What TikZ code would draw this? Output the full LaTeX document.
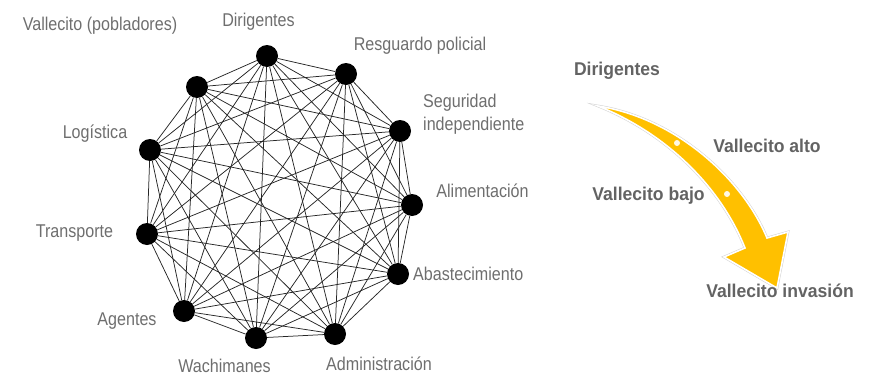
\documentclass[tikz,border=0pt]{standalone}
\usepackage{fontspec}
\setmainfont{Liberation Sans}[FakeStretch=0.87]
\newfontfamily\boldlab{Liberation Sans}[FakeStretch=0.95]
\definecolor{labgray}{HTML}{6E6E6E}
\definecolor{boldgray}{HTML}{636363}
\definecolor{arrowyellow}{HTML}{FFC000}
\tikzset{
  dot/.style={circle, fill=black, minimum size=22pt, inner sep=0pt},
  link/.style={draw=black!85, line width=0.75pt},
  lab/.style={inner sep=0pt, text=labgray, font=\fontsize{18.5}{20}\selectfont},
  blab/.style={inner sep=0pt, text=boldgray, font=\boldlab\bfseries\fontsize{18.5}{20}\selectfont},
  wdot/.style={circle, fill=white, fill opacity=0.9, minimum size=6pt, inner sep=0pt}
}
\begin{document}
\begin{tikzpicture}[x=1pt, y=-1pt]
\useasboundingbox (0,0) rectangle (876,375);
% network nodes
\node[dot] (n1) at (267,56) {};
\node[dot] (n2) at (346,74) {};
\node[dot] (n3) at (400,131) {};
\node[dot] (n4) at (412,205) {};
\node[dot] (n5) at (398,274) {};
\node[dot] (n6) at (335,334) {};
\node[dot] (n7) at (256,338) {};
\node[dot] (n8) at (184,311) {};
\node[dot] (n9) at (147,234) {};
\node[dot] (n10) at (150,150) {};
\node[dot] (n11) at (197,87) {};
\foreach \i in {1,...,11}{
  \foreach \j in {1,...,11}{
    \ifnum\j>\i \path[link] (n\i) -- (n\j); \fi
  }
}
% labels
\node[lab, anchor=base] (l1) at (258.5,26) {Dirigentes};
\node[lab, anchor=base] (l2) at (420,50) {Resguardo policial};
\node[lab, anchor=base west] (l3a) at (423,107) {Seguridad};
\node[lab, anchor=base west] (l3b) at (423,130) {independiente};
\node[lab, anchor=base] (l4) at (482.5,197) {Alimentación};
\node[lab, anchor=base west] (l5) at (413,280) {Abastecimiento};
\node[lab, anchor=base] (l6) at (379,370) {Administración};
\node[lab, anchor=base] (l7) at (224.5,372) {Wachimanes};
\node[lab, anchor=base] (l8) at (127,325) {Agentes};
\node[lab, anchor=base] (l9) at (74.5,237) {Transporte};
\node[lab, anchor=base] (l10) at (95,138) {Logística};
\node[lab, anchor=base] (l11) at (100,30) {Vallecito (pobladores)};
% curved arrow
\path[draw=black!18, line width=2.6pt, line join=miter]
  (598,106) .. controls (675,118) and (742,178) .. (767,238) -- (788,232) -- (777,288)
  -- (724,257) -- (745,248) .. controls (722,190) and (670,135) .. (598,106) -- cycle;
\path[draw=white, line width=1.6pt, fill=arrowyellow, line join=miter]
  (598,106) .. controls (675,118) and (742,178) .. (767,238) -- (788,232) -- (777,288)
  -- (724,257) -- (745,248) .. controls (722,190) and (670,135) .. (598,106) -- cycle;
\node[wdot] (d1) at (677,143) {};
\node[wdot] (d2) at (727,194) {};
% right labels
\node[blab, anchor=base] (r1) at (617,75) {Dirigentes};
\node[blab, anchor=base] (r2) at (767,152) {Vallecito alto};
\node[blab, anchor=base] (r3) at (648.5,200) {Vallecito bajo};
\node[blab, anchor=base] (r4) at (780,297) {Vallecito invasión};
\end{tikzpicture}
\end{document}
